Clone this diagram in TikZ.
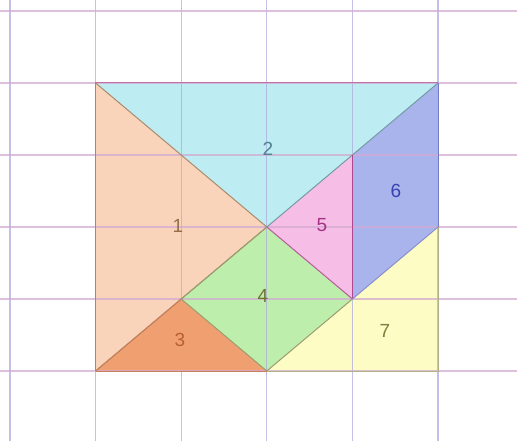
\documentclass[tikz,border=0pt]{standalone}
\usepackage{fontspec}
\setmainfont{Liberation Sans}
\definecolor{cA}{RGB}{249,212,186}
\definecolor{cB}{RGB}{190,236,243}
\definecolor{cC}{RGB}{240,160,112}
\definecolor{cD}{RGB}{190,238,172}
\definecolor{cE}{RGB}{246,190,230}
\definecolor{cF}{RGB}{170,180,236}
\definecolor{cG}{RGB}{252,252,196}
\definecolor{gridh}{RGB}{210,170,212}
\definecolor{gridv}{RGB}{175,172,222}
\definecolor{lA}{RGB}{150,110,70}
\definecolor{lB}{RGB}{80,130,145}
\definecolor{lC}{RGB}{185,95,50}
\definecolor{lD}{RGB}{110,115,50}
\definecolor{lE}{RGB}{165,50,130}
\definecolor{lF}{RGB}{55,65,175}
\definecolor{lG}{RGB}{125,125,60}
\tikzset{
  piece/.style={line width=1pt, line join=round},
  gridline/.style={line width=1.3pt, opacity=0.75},
  lbl/.style={font=\fontsize{19}{19}\selectfont, inner sep=0pt}
}
\begin{document}
\begin{tikzpicture}[x=1pt,y=-1pt]
\useasboundingbox (0,0) rectangle (517,441);
\fill[white] (0,0) rectangle (517,441);
% grid coordinates
\foreach \c/\xx in {0/10,1/95.6,2/181.2,3/266.8,4/352.4,5/438}{
  \foreach \r/\yy in {0/11,1/83,2/155,3/227,4/299,5/371}{
    \coordinate (p\c\r) at (\xx,\yy);
  }
}
% pieces fill
\fill[cA] (p11) -- (p33) -- (p15) -- cycle;
\fill[cB] (p11) -- (p51) -- (p33) -- cycle;
\fill[cE] (p33) -- (p42) -- (p44) -- cycle;
\fill[cF] (p42) -- (p51) -- (p53) -- (p44) -- cycle;
\fill[cD] (p33) -- (p44) -- (p35) -- (p24) -- cycle;
\fill[cC] (p15) -- (p24) -- (p35) -- cycle;
\fill[cG] (p35) -- (p53) -- (p55) -- cycle;
% grid
\foreach \xx in {10,95.6,181.2,266.8,352.4,438}{
  \draw[gridline,gridv] (\xx,0) -- (\xx,441);
}
\foreach \yy in {11,83,155,227,299,371}{
  \draw[gridline,gridh] (0,\yy) -- (517,\yy);
}
% piece edges
\draw[piece,draw=lA!80] (p11) -- (p33) -- (p15);
\draw[piece,draw=lE!70] (p15) -- (p11) -- (p51);
\draw[piece,draw=lF!70] (p51) -- (p53);
\draw[piece,draw=lB!80] (p33) -- (p42) -- (p51);
\draw[piece,draw=lE!90] (p42) -- (p44);
\draw[piece,draw=lE!80] (p33) -- (p44);
\draw[piece,draw=lF!60] (p44) -- (p53);
\draw[piece,draw=lD!70] (p44) -- (p35) -- (p24) -- (p33);
\draw[piece,draw=lC!80] (p15) -- (p24);
\draw[piece,draw=lC!80] (p15) -- (p35);
\draw[piece,draw=lG!60] (p35) -- (p55) -- (p53);
% labels
\node[lbl,text=lA] (n1) at (178,226) {1};
\node[lbl,text=lB] (n2) at (268,149) {2};
\node[lbl,text=lC] (n3) at (180,340) {3};
\node[lbl,text=lD] (n4) at (263,296) {4};
\node[lbl,text=lE] (n5) at (322,225) {5};
\node[lbl,text=lF] (n6) at (396,191) {6};
\node[lbl,text=lG] (n7) at (385,331) {7};
\end{tikzpicture}
\end{document}
